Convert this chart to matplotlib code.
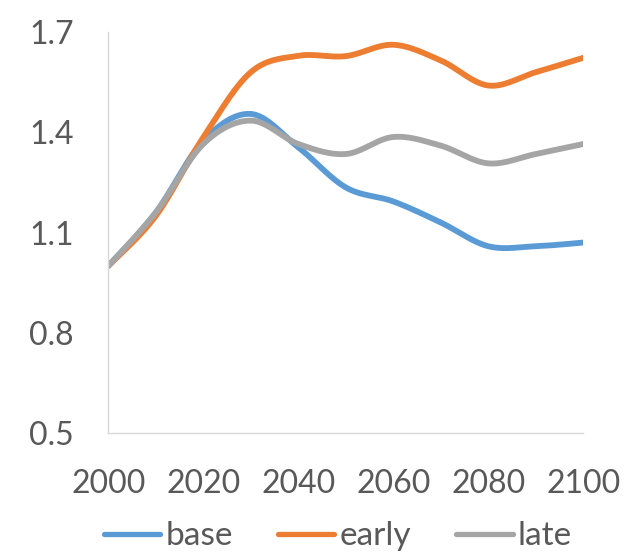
import matplotlib.pyplot as plt
import numpy as np

# ===== Data =====
years = [2000, 2010, 2020, 2030, 2040, 2050, 2060, 2070, 2080, 2090, 2100]
base = [1.00, 1.16, 1.375, 1.455, 1.355, 1.235, 1.193, 1.13, 1.059, 1.059, 1.07]
early = [1.00, 1.15, 1.385, 1.58, 1.629, 1.628, 1.662, 1.615, 1.54, 1.58, 1.623]
late = [1.00, 1.16, 1.365, 1.435, 1.365, 1.335, 1.386, 1.36, 1.307, 1.335, 1.365]

series = [("base", base, "#5B9BD5"), ("early", early, "#ED7D31"), ("late", late, "#A5A5A5")]


def smooth(x, y, n=30):
    # Excel-like smoothed line: cubic Bezier segments through each point
    x = np.asarray(x, float)
    y = np.asarray(y, float)
    px = np.concatenate([[x[0]], x, [x[-1]]])
    py = np.concatenate([[y[0]], y, [y[-1]]])
    t = np.linspace(0, 1, n)[:, None]
    xs, ys = [], []
    for i in range(1, len(px) - 2):
        p0 = np.array([px[i - 1], py[i - 1]])
        p1 = np.array([px[i], py[i]])
        p2 = np.array([px[i + 1], py[i + 1]])
        p3 = np.array([px[i + 2], py[i + 2]])
        c1 = p1 + (p2 - p0) / 6
        c2 = p2 - (p3 - p1) / 6
        b = ((1 - t) ** 3) * p1 + 3 * ((1 - t) ** 2) * t * c1 + 3 * (1 - t) * t ** 2 * c2 + t ** 3 * p2
        xs.append(b[:, 0])
        ys.append(b[:, 1])
    return np.concatenate(xs), np.concatenate(ys)


plt.rcParams['font.family'] = ['Lato', 'DejaVu Sans']
txt = "#595959"

fig = plt.figure(figsize=(6.41, 5.53), dpi=100)
ax = fig.add_axes([0.169, 0.217, 0.741, 0.725])

for name, vals, col in series:
    sx, sy = smooth(years, vals)
    ax.plot(sx, sy, color=col, lw=4.2, label=name, solid_capstyle='round')

ax.set_xlim(2000, 2100)
ax.set_ylim(0.5, 1.7)
ax.set_xticks([2000, 2020, 2040, 2060, 2080, 2100])
ax.set_yticks([0.5, 0.8, 1.1, 1.4, 1.7])
ax.set_yticklabels(["0.5", "0.8", "1.1", "1.4", "1.7"])
ax.tick_params(length=0, labelsize=23, labelcolor=txt)
ax.tick_params(axis='x', pad=26)
ax.tick_params(axis='y', pad=25)

for s in ['top', 'right']:
    ax.spines[s].set_visible(False)
for s in ['left', 'bottom']:
    ax.spines[s].set_color("#D9D9D9")
    ax.spines[s].set_linewidth(1.0)

leg = ax.legend(loc='lower center', bbox_to_anchor=(0.483, -0.37), ncol=3, frameon=False,
                fontsize=24, labelcolor=txt, handlelength=1.7, handletextpad=0.15,
                columnspacing=1.35)
for h in leg.get_lines():
    h.set_linewidth(3.8)

fig.savefig("out.png", dpi=100)
